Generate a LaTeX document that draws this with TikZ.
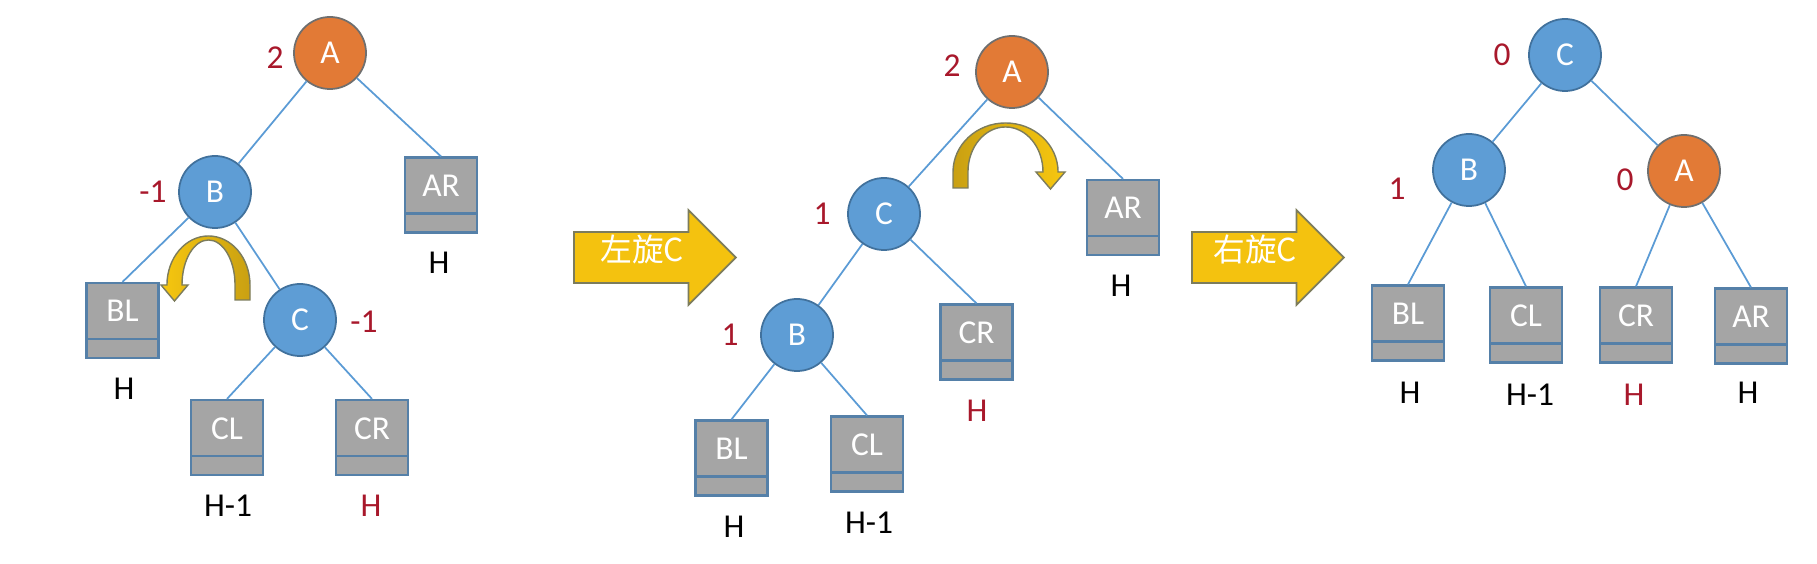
\documentclass[tikz,border=0pt]{standalone}
\usepackage{fontspec}
\setmainfont{Carlito}
\newfontfamily\cjk{Noto Sans CJK SC}
\usetikzlibrary{shapes.arrows}

\definecolor{nodeBlue}{HTML}{5E9DD5}
\definecolor{nodeBlueEdge}{HTML}{41719C}
\definecolor{nodeOrange}{HTML}{E27A36}
\definecolor{nodeOrangeEdge}{HTML}{6F6F6F}
\definecolor{boxGray}{HTML}{A5A5A5}
\definecolor{boxEdge}{HTML}{5580A8}
\definecolor{edgeBlue}{HTML}{5B9BD5}
\definecolor{balanceRed}{HTML}{A8182B}
\definecolor{arrowYellow}{HTML}{F4C20F}
\definecolor{arrowEdge}{HTML}{7C7C5C}
\definecolor{curlBright}{HTML}{F7C70F}
\definecolor{curlDark}{HTML}{C9A012}

\begin{document}
\begin{tikzpicture}[
    x=0.01cm, y=-0.01cm,
    every node/.style={font=\fontsize{9.5}{11}\selectfont},
    tree edge/.style={edgeBlue, line width=0.5pt},
    avl node/.style={circle, fill=nodeBlue, draw=nodeBlueEdge, line width=0.5pt,
        minimum size=0.72cm, inner sep=0pt, text=white},
    heavy node/.style={avl node, fill=nodeOrange, draw=nodeOrangeEdge},
    subtree/.style={rectangle, fill=boxGray, draw=boxEdge, line width=0.6pt,
        minimum width=0.72cm, minimum height=0.75cm, inner sep=0pt, text=white,
        text height=0.23cm, text depth=0.20cm,
        path picture={\draw[boxEdge, line width=0.6pt]
            ([yshift=0.19cm]path picture bounding box.south west) --
            ([yshift=0.19cm]path picture bounding box.south east);}},
    balance/.style={text=balanceRed},
    height label/.style={text=black},
    rotate arrow/.style={single arrow, fill=arrowYellow, draw=arrowEdge, line width=0.5pt,
        single arrow head extend=0.22cm, minimum height=1.62cm,
        inner ysep=0.145cm, inner xsep=0pt, text height=0.14cm, text depth=0.06cm,
        text=white, font=\cjk\fontsize{9}{10}\selectfont},
    curl arrow/.style={draw=arrowEdge, line width=0.4pt}
]
    \useasboundingbox (0,0) rectangle (1817,564);

    % Before: B is left-heavy's right child case
    \node[heavy node] (A1) at (330,53) {A};
    \node[avl node] (B1) at (215,192) {B};
    \node[avl node] (C1) at (300,320) {C};
    \node[subtree] (BL1) at (122.5,320.5) {BL};
    \node[subtree] (AR1) at (441,195) {AR};
    \node[subtree] (CL1) at (227,437.5) {CL};
    \node[subtree] (CR1) at (372,437.5) {CR};

    \draw[tree edge] (A1) -- (B1);
    \draw[tree edge] (A1) -- (AR1.north);
    \draw[tree edge] (B1) -- (BL1.north);
    \draw[tree edge] (B1) -- (C1);
    \draw[tree edge] (C1) -- (CL1.north);
    \draw[tree edge] (C1) -- (CR1.north);

    \node[balance] (bA1) at (275,58) {2};
    \node[balance] (bB1) at (153,192) {-1};
    \node[balance] (bC1) at (364,322) {-1};
    \node[height label] (hBL1) at (124,389) {H};
    \node[height label] (hAR1) at (439,263) {H};
    \node[height label] (hCL1) at (228,506) {H-1};
    \node[balance] (hCR1) at (371,506) {H};

    % Curl: rotate left
    \path[curl arrow, left color=curlBright, right color=curlDark]
        (250,300) -- (250,285) arc[start angle=0, end angle=180, x radius=0.415cm, y radius=0.49cm]
        -- (161,285) -- (174.5,301) -- (188,285) -- (182,285)
        arc[start angle=180, end angle=0, x radius=0.265cm, y radius=0.45cm]
        -- (235,300) -- cycle;

    % Step 1
    \node[rotate arrow, anchor=tail] (rotL) at (573,257.5) {左旋C};

    % Middle tree
    \node[heavy node] (A2) at (1012,72) {A};
    \node[avl node] (C2) at (884,214) {C};
    \node[avl node] (B2) at (797,335) {B};
    \node[subtree] (AR2) at (1123,217.5) {AR};
    \node[subtree] (CR2) at (976.5,342) {CR};
    \node[subtree] (BL2) at (731.5,458) {BL};
    \node[subtree] (CL2) at (867,454) {CL};

    \draw[tree edge] (A2) -- (C2);
    \draw[tree edge] (A2) -- (AR2.north);
    \draw[tree edge] (C2) -- (B2);
    \draw[tree edge] (C2) -- (CR2.north);
    \draw[tree edge] (B2) -- (BL2.north);
    \draw[tree edge] (B2) -- (CL2.north);

    \node[balance] (bA2) at (952,66) {2};
    \node[balance] (bC2) at (822,214) {1};
    \node[balance] (bB2) at (730,335) {1};
    \node[height label] (hAR2) at (1121,286) {H};
    \node[balance] (hCR2) at (977,411) {H};
    \node[height label] (hBL2) at (734,527) {H};
    \node[height label] (hCL2) at (869,523) {H-1};

    % Curl: rotate right
    \path[curl arrow, left color=curlDark, right color=curlBright]
        (953,188) -- (953,172) arc[start angle=180, end angle=0, x radius=0.525cm, y radius=0.49cm]
        -- (1065,172) -- (1050.5,189) -- (1036,172) -- (1043,172)
        arc[start angle=0, end angle=180, x radius=0.375cm, y radius=0.45cm]
        -- (968,188) -- cycle;

    % Step 2
    \node[rotate arrow, anchor=tail, minimum height=1.52cm] (rotR) at (1191,257.5) {右旋C};

    % After: balanced
    \node[avl node] (C3) at (1565,55) {C};
    \node[avl node] (B3) at (1469,170) {B};
    \node[heavy node] (A3) at (1684,171) {A};
    \node[subtree] (BL3) at (1408,323) {BL};
    \node[subtree] (CL3) at (1526,325) {CL};
    \node[subtree] (CR3) at (1636,325) {CR};
    \node[subtree] (AR3) at (1751,326) {AR};

    \draw[tree edge] (C3) -- (B3);
    \draw[tree edge] (C3) -- (A3);
    \draw[tree edge] (B3) -- (BL3.north);
    \draw[tree edge] (B3) -- (CL3.north);
    \draw[tree edge] (A3) -- (CR3.north);
    \draw[tree edge] (A3) -- (AR3.north);

    \node[balance] (bC3) at (1502,55) {0};
    \node[balance] (bB3) at (1397,189) {1};
    \node[balance] (bA3) at (1625,180) {0};
    \node[height label] (hBL3) at (1410,393) {H};
    \node[height label] (hCL3) at (1530,395) {H-1};
    \node[balance] (hCR3) at (1634,395) {H};
    \node[height label] (hAR3) at (1748,393) {H};
\end{tikzpicture}
\end{document}
